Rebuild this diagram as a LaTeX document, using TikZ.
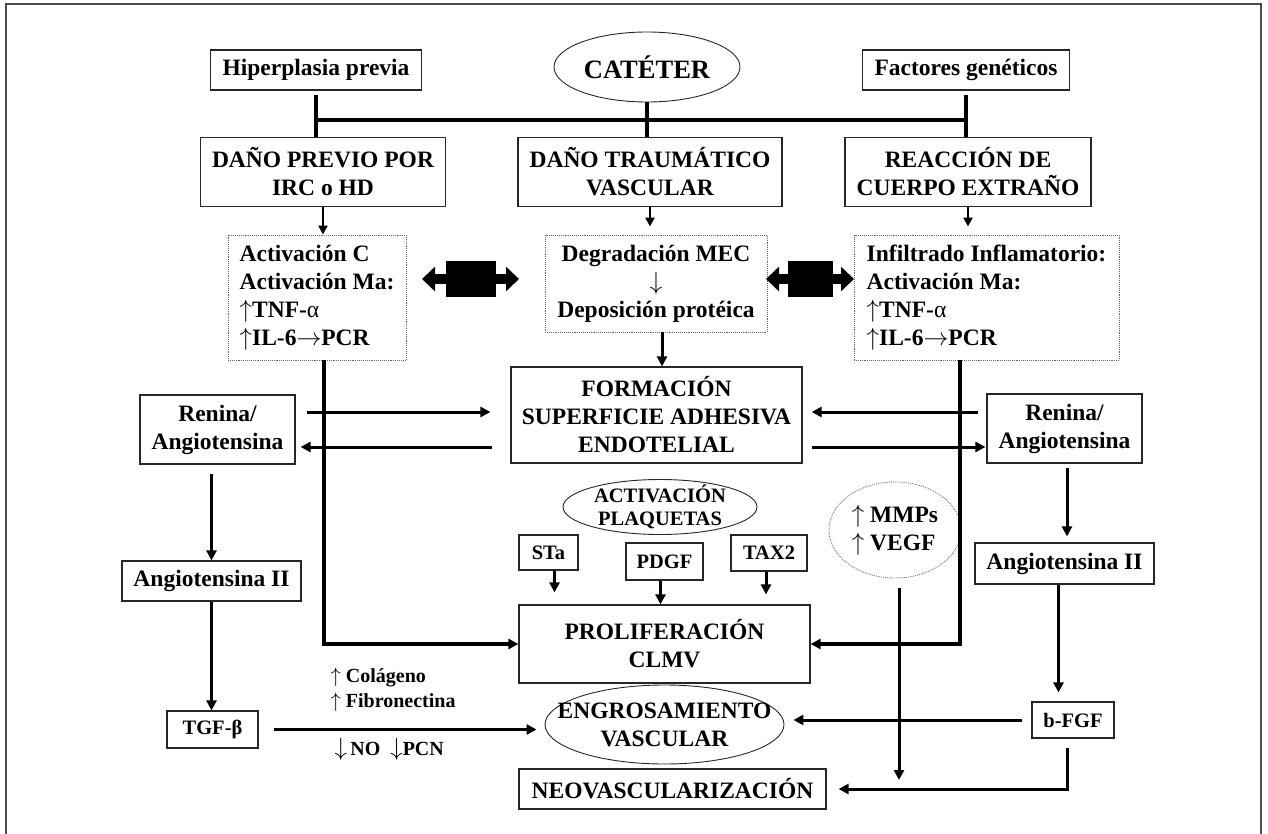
\documentclass[tikz,border=0pt]{standalone}
\usepackage{fontspec}
\setmainfont{Liberation Serif}
\usetikzlibrary{arrows.meta,positioning,shapes.geometric}

\newcommand{\up}{{\mdseries$\uparrow$}}
\newcommand{\dn}{{\mdseries$\downarrow$}}
\newcommand{\rt}{{\mdseries$\rightarrow$}}

\tikzset{
  box/.style={draw=black!85, line width=1.2pt, inner sep=0pt, align=center},
  dotbox/.style={draw=black!60, densely dotted, line width=0.9pt, inner sep=0pt},
  oval/.style={draw=black!85, ellipse, line width=0.9pt, inner sep=0pt},
  small/.style={font=\bfseries\fontsize{20.5}{24}\selectfont},
  arr/.style={line width=3pt, -{Triangle[length=10pt,width=10pt]}},
  tip/.style={line width=2.2pt, -{Triangle[length=9pt,width=9pt]}},
  bar/.style={line width=3.6pt},
  blk/.style={line width=10pt, {Triangle[length=13pt,width=24pt]}-{Triangle[length=13pt,width=24pt]}},
}

\begin{document}
\begin{tikzpicture}[x=1pt,y=-1pt,on grid,font=\bfseries\fontsize{23.5}{28}\selectfont]
    \useasboundingbox (0,0) rectangle (1268,834);
    \draw[black!70, line width=1.2pt] (6,834) -- (6,4) -- (1261,4) -- (1261,834);

    % causes
    \node[box, minimum width=211pt, minimum height=40pt] (hip) at (316,70) {Hiperplasia previa};
    \node[oval, minimum width=186pt, minimum height=70pt] (cat) at (647,67) {};
    \node[font=\bfseries\fontsize{26.5}{28}\selectfont] (cattxt) at (cat) {CATÉTER};
    \node[box, minimum width=207pt, minimum height=40pt] (fac) at (966,70) {Factores genéticos};

    \node[box, minimum width=245pt, minimum height=69pt] (dpi) at (323,172) {DAÑO PREVIO POR\\IRC o HD};
    \node[box, minimum width=264pt, minimum height=69pt] (dtv) at (650,172) {DAÑO TRAUMÁTICO\\VASCULAR};
    \node[box, minimum width=246pt, minimum height=69pt] (rce) at (968,172) {REACCIÓN DE\\CUERPO EXTRAÑO};

    \coordinate (junc) at (0,120);
    \draw[bar] ([yshift=-4pt]hip.south) -- (hip.south |- dpi.north);
    \draw[bar] (cat.south) -- (cat.south |- dtv.north);
    \draw[bar] ([yshift=-4pt]fac.south) -- (fac.south |- rce.north);
    \draw[bar] (hip.south |- junc) -- (fac.south |- junc);

    % second level
    \node[dotbox, minimum width=178pt, minimum height=125pt, align=left] (actl) at (317,297.5)
        {Activación C\\Activación Ma:\\\up TNF-{\mdseries α}\\\up IL-6\rt PCR};
    \node[dotbox, minimum width=222pt, minimum height=97pt, align=center] (mec) at (656,283.5)
        {Degradación MEC\\{\fontsize{23}{28}\selectfont\dn}\\Deposición protéica};
    \node[dotbox, minimum width=265pt, minimum height=125pt, align=left] (infl) at (986.5,297.5)
        {Infiltrado Inflamatorio:\\Activación Ma:\\\up TNF-{\mdseries α}\\\up IL-6\rt PCR};

    \draw[tip] (dpi.south) -- (dpi.south |- actl.north);
    \draw[tip, shorten >=8pt] (dtv.south) -- (dtv.south |- mec.north);
    \draw[tip, shorten >=8pt] (rce.south) -- (rce.south |- infl.north);

    % block arrows
    \coordinate (blkl) at (470.5,279);
    \coordinate (blkr) at (810,279);
    \fill ([shift={(-25,-18)}]blkl) rectangle ([shift={(25,18)}]blkl);
    \draw[blk] ([xshift=-48.5pt]blkl) -- ([xshift=48.5pt]blkl);
    \fill ([shift={(-22.5,-18)}]blkr) rectangle ([shift={(22.5,18)}]blkr);
    \draw[blk] ([xshift=-44pt]blkr) -- ([xshift=44pt]blkr);

    % adhesive surface
    \node[box, minimum width=291pt, minimum height=96pt] (fse) at (656.5,415) {FORMACIÓN\\SUPERFICIE ADHESIVA\\ENDOTELIAL};
    \node[box, minimum width=155pt, minimum height=69pt] (renl) at (217.5,429.5) {Renina/\\Angiotensina};
    \node[box, minimum width=155pt, minimum height=69pt] (renr) at (1064.5,428.5) {Renina/\\Angiotensina};

    \draw[arr] ([xshift=6pt]mec.south) -- ([xshift=6pt]mec.south |- fse.north);
    \draw[arr, shorten <=11pt, shorten >=20pt] ([yshift=17.5pt]renl.east) -- ([yshift=3pt]fse.west);
    \draw[arr, shorten <=18pt, shorten >=5pt] ([yshift=-32pt]fse.west) -- ([yshift=-17.5pt]renl.east);
    \draw[arr, shorten <=8pt, shorten >=9pt] ([yshift=16.5pt]renr.west) -- ([yshift=3pt]fse.east);
    \draw[arr, shorten <=9pt, shorten >=1pt] ([yshift=-32pt]fse.east) -- ([yshift=-18.5pt]renr.west);

    % platelets
    \node[oval, minimum width=194pt, minimum height=55pt] (plq) at (660,507) {};
    \node[align=center, font=\bfseries\fontsize{20.5}{23}\selectfont] (plqtxt) at (plq) {ACTIVACIÓN\\PLAQUETAS};
    \node[oval, densely dotted, draw=black!55, minimum width=132pt, minimum height=96pt] (mmp) at (895,530) {};
    \node[align=left] (mmptxt) at (mmp) {\up\ MMPs\\\up\ VEGF};

    \node[box, small, minimum width=59pt, minimum height=35pt] (sta) at (548.5,552.5) {STa};
    \node[box, small, minimum width=77pt, minimum height=37pt] (pdgf) at (664.5,561.5) {PDGF};
    \node[box, small, minimum width=76pt, minimum height=36pt] (tax) at (769,553) {TAX2};

    \node[box, minimum width=179pt, minimum height=40pt] (angl) at (211.5,581) {Angiotensina II};
    \node[box, minimum width=179pt, minimum height=41pt] (angr) [below=135pt of renr] {Angiotensina II};

    % proliferation
    \node[box, minimum width=291pt, minimum height=78pt] (pro) at (664.5,644) {PROLIFERACIÓN\\CLMV};
    \draw[arr, shorten >=12pt] ([xshift=6pt]sta.south) -- ([xshift=6pt]sta.south |- pro.north);
    \draw[arr] ([xshift=-4pt]pdgf.south) -- ([xshift=-4pt]pdgf.south |- pro.north);
    \draw[arr, shorten >=10pt] ([xshift=-3pt]tax.south) -- ([xshift=-3pt]tax.south |- pro.north);
    \draw[arr, line width=3.5pt] ([xshift=7pt]actl.south) |- (pro.west);
    \draw[arr, line width=3.5pt] ([xshift=-26.5pt]infl.south) |- (pro.east);

    \draw[arr, shorten <=9pt] (angl.north |- renl.south) -- (angl.north);
    \draw[arr, shorten <=4pt, shorten >=6pt] ([xshift=2.5pt]renr.south) -- ([xshift=2.5pt]angr.north);

    % thickening
    \node[oval, minimum width=239pt, minimum height=79pt] (eng) at (664.5,724.5) {};
    \node[align=center] (engtxt) at (eng) {ENGROSAMIENTO\\VASCULAR};
    \node[box, small, minimum width=91pt, minimum height=37pt] (tgf) at (212.5,729.5) {TGF-β};
    \node[box, small, minimum width=82pt, minimum height=36pt] (bfgf) at (1073,720) {b-FGF};
    \node[box, minimum width=307pt, minimum height=40pt] (neo) at (672.5,789) {NEOVASCULARIZACIÓN};

    \node[align=left, anchor=west, font=\bfseries\fontsize{20}{25}\selectfont] (col) at (327,690)
        {\up\ Colágeno\\\up\ Fibronectina};
    \node[anchor=base west, font=\bfseries\fontsize{20}{25}\selectfont] (nopcn) at (331,755)
        {{\fontsize{27}{27}\selectfont\dn}\,NO\enspace{\fontsize{27}{27}\selectfont\dn}PCN};

    \draw[arr] (angl.south) -- (angl.south |- tgf.north);
    \draw[arr, shorten <=15pt, shorten >=8pt] (tgf.east) -- (tgf.east -| eng.west);
    \draw[arr, shorten >=9pt] ([xshift=-6pt]angr.south) -- ([xshift=-6pt]angr.south |- bfgf.north);
    \draw[arr, shorten <=9pt, shorten >=9pt] (bfgf.west) -- (bfgf.west -| eng.east);
    \draw[arr, shorten <=9pt, shorten >=12pt] ([xshift=-6pt]bfgf.south) |- (neo.east);

    \coordinate (mmpend) at (899,780);
    \draw[arr] ([xshift=4pt,yshift=-10pt]mmp.south) -- (mmpend);
\end{tikzpicture}
\end{document}
